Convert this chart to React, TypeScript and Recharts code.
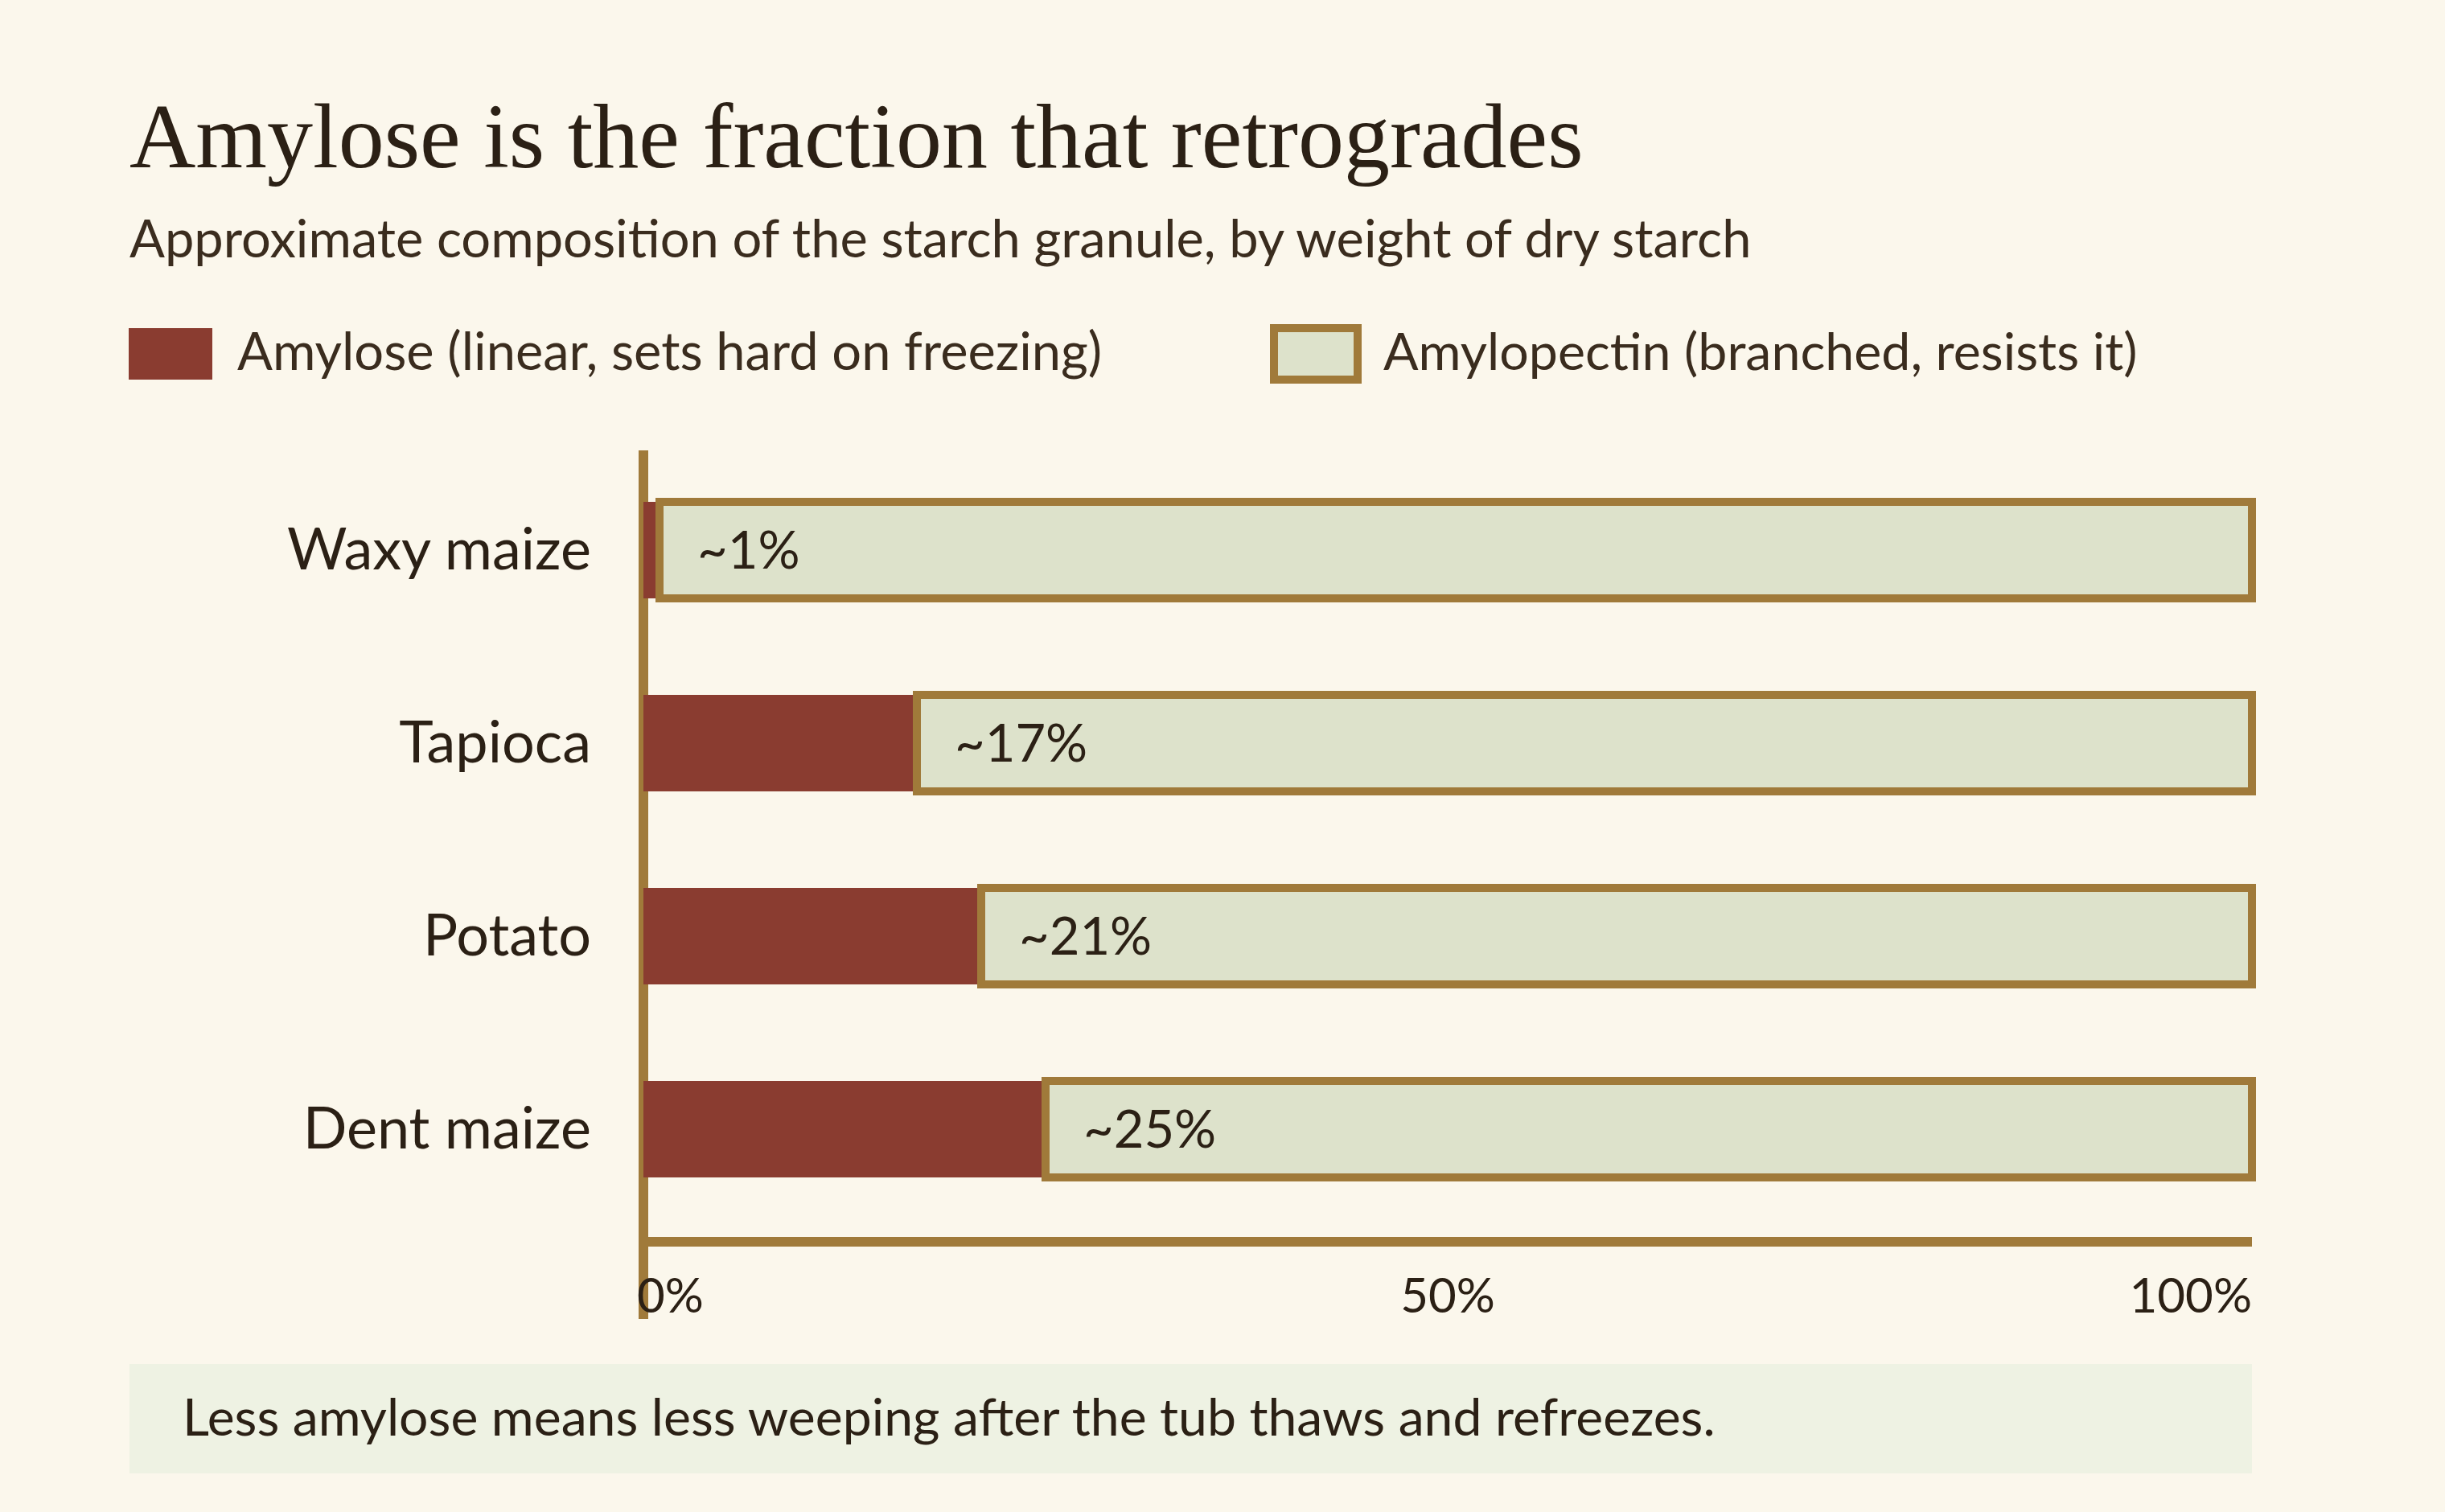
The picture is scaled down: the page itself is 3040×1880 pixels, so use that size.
import React from "react";
import * as Recharts from "recharts";
import { Bar, BarChart, LabelList, XAxis, YAxis } from "recharts";

// Starch composition, % of dry starch weight
const starches = ["Waxy maize", "Tapioca", "Potato", "Dent maize"];
const amylose = [1, 17, 21, 25];
const amylopectin = [99, 83, 79, 75];
const pctTicks = [0, 50, 100];

const BG = "#FBF7EC";
const INK = "#2B2015";
const RED = "#8A3C30";
const PALE = "#DDE2CB";
const GOLD = "#A07A3A";
const NOTE_BG = "#EEF2E3";

const SERIF = "Georgia, 'Liberation Serif', 'DejaVu Serif', serif";
const SANS = "'Segoe UI', Lato, 'Open Sans', sans-serif";

const data = starches.map((name, i) => ({
  name,
  amylose: amylose[i],
  amylopectin: amylopectin[i],
}));

// recharts 3 exposes the plot rectangle through a hook; the spine runs a
// little past the plot on both ends, the way the print version does
const R: any = Recharts;
const usePlot: () => any = R.usePlotArea ?? (() => null);

function AxisSpine() {
  const area = usePlot();
  if (!area) return null;
  return (
    <line
      x1={area.x}
      x2={area.x}
      y1={area.y - 4}
      y2={area.y + area.height + 96}
      stroke={GOLD}
      strokeWidth={12}
    />
  );
}

function NameTick(props: any) {
  const { x, y, payload } = props;
  return (
    <text x={x} y={y} dy="0.34em" textAnchor="end" fontSize={72} fill={INK} fontFamily={SANS}>
      {payload.value}
    </text>
  );
}

function PctTick(props: any) {
  const { x, y, payload } = props;
  const v = payload.value;
  const first = v === pctTicks[0];
  const last = v === pctTicks[pctTicks.length - 1];
  return (
    <text
      x={first ? x - 8 : x}
      y={y + 88}
      textAnchor={first ? "start" : last ? "end" : "middle"}
      fontSize={60}
      fill={INK}
      fontFamily={SANS}
    >
      {v}%
    </text>
  );
}

export default function App() {
  return (
    <div style={{ position: "fixed", left: 0, top: 0, width: 3040, height: 1880, background: BG, overflow: "hidden" }}>
      <svg width={3040} height={1880} style={{ position: "absolute", left: 0, top: 0 }}>
        <text x={161} y={208} fontFamily={SERIF} fontSize={114} fill={INK}>
          Amylose is the fraction that retrogrades
        </text>
        <text x={161} y={320} fontFamily={SANS} fontSize={65} fill="#3A2C1E">
          Approximate composition of the starch granule, by weight of dry starch
        </text>

        <rect x={160} y={408} width={104} height={64} fill={RED} />
        <text x={295} y={460} fontFamily={SANS} fontSize={65} fill="#3A2C1E">
          Amylose (linear, sets hard on freezing)
        </text>
        <rect x={1584} y={408} width={104} height={64} fill={PALE} stroke={GOLD} strokeWidth={10} />
        <text x={1720} y={460} fontFamily={SANS} fontSize={64.5} fill="#3A2C1E">
          Amylopectin (branched, resists it)
        </text>

        <rect x={161} y={1696} width={2639} height={136} fill={NOTE_BG} />
        <text x={227} y={1785} fontFamily={SANS} fontSize={64.3} fill={INK}>
          Less amylose means less weeping after the tub thaws and refreezes.
        </text>
      </svg>

      <div style={{ position: "absolute", left: 0, top: 0 }}>
        <BarChart
          layout="vertical"
          width={3040}
          height={1880}
          data={data}
          margin={{ top: 564, right: 240, bottom: 236, left: 0 }}
          barCategoryGap="25%"
        >
          <XAxis
            type="number"
            domain={[0, 100]}
            ticks={pctTicks}
            interval={0}
            height={100}
            axisLine={{ stroke: GOLD, strokeWidth: 12 }}
            tickLine={false}
            tickSize={0}
            tickMargin={0}
            tick={<PctTick />}
          />
          <YAxis
            type="category"
            dataKey="name"
            width={800}
            axisLine={false}
            tickLine={false}
            tickSize={0}
            tickMargin={65}
            padding={{ top: 0, bottom: 20 }}
            tick={<NameTick />}
          />
          <Bar dataKey="amylose" stackId="starch" fill={RED} isAnimationActive={false} />
          <Bar
            dataKey="amylopectin"
            stackId="starch"
            fill={PALE}
            stroke={GOLD}
            strokeWidth={10}
            isAnimationActive={false}
          >
            <LabelList
              dataKey="amylose"
              position="insideLeft"
              offset={47}
              formatter={(v: any) => `~${v}%`}
              fontSize={65}
              fill={INK}
              fontFamily={SANS}
            />
          </Bar>
          <AxisSpine />
        </BarChart>
      </div>
    </div>
  );
}
